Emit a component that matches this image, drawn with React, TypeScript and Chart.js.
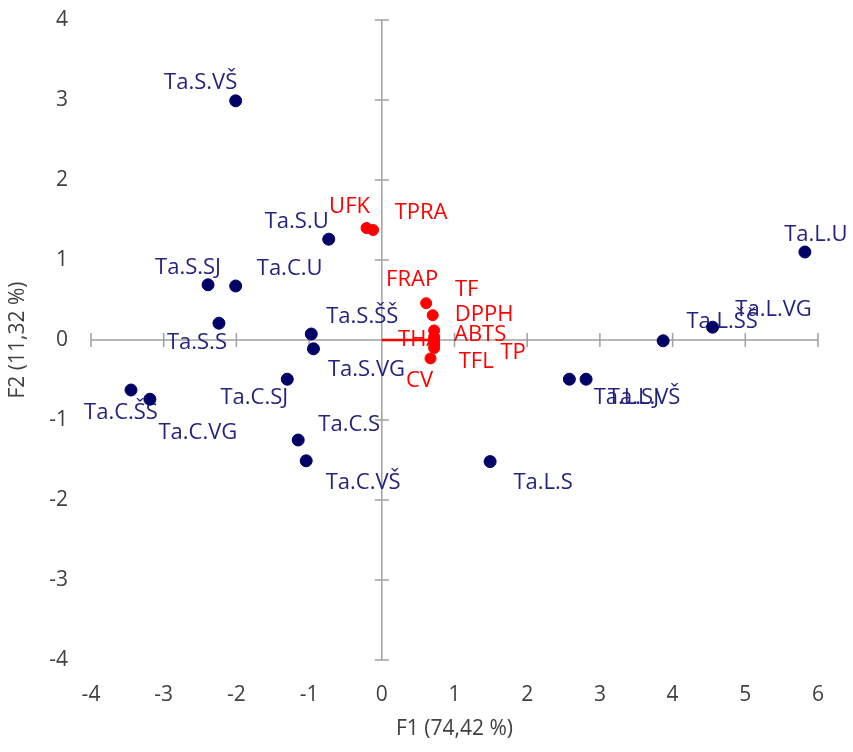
import React, { useEffect, useRef } from "react";
import { Chart, registerables } from "chart.js";

Chart.register(...registerables);

// ---- data ----
const xTickValues = [-4, -3, -2, -1, 0, 1, 2, 3, 4, 5, 6];
const yTickValues = [-4, -3, -2, -1, 0, 1, 2, 3, 4];
const xTitle = "F1 (74,42 %)";
const yTitle = "F2 (11,32 %)";

const sampleNames = [
  "Ta.S.VŠ", "Ta.S.U", "Ta.S.SJ", "Ta.C.U", "Ta.S.S", "Ta.S.ŠŠ", "Ta.S.VG",
  "Ta.C.SJ", "Ta.C.ŠŠ", "Ta.C.VG", "Ta.C.S", "Ta.C.VŠ",
  "Ta.L.S", "Ta.L.SJ", "Ta.L.VŠ", "Ta.L.ŠŠ", "Ta.L.VG", "Ta.L.U",
];
const sampleF1 = [-2.01, -0.73, -2.39, -2.01, -2.24, -0.97, -0.94, -1.3, -3.45, -3.19, -1.15, -1.04, 1.49, 2.58, 2.81, 3.87, 4.55, 5.82];
const sampleF2 = [2.99, 1.26, 0.69, 0.675, 0.21, 0.075, -0.11, -0.49, -0.625, -0.74, -1.25, -1.51, -1.52, -0.49, -0.49, -0.01, 0.16, 1.1];

const variableNames = ["UFK", "TPRA", "FRAP", "TF", "DPPH", "ABTS", "THA", "TP", "TFL", "CV"];
const variableF1 = [-0.21, -0.12, 0.61, 0.7, 0.72, 0.72, 0.72, 0.72, 0.72, 0.67];
const variableF2 = [1.4, 1.375, 0.46, 0.31, 0.12, 0.04, 0.0, -0.04, -0.1, -0.23];

const vectorF1 = [0, 0.76];
const vectorF2 = [0, 0];

// ---- label placement (pixel offsets from the mark, styling only) ----
const sampleLabelOffsets: [number, number][] = [
  [-35, -18], [-32, -17], [-20, -17], [54, -17], [-22, 20], [51, -17], [53, 21],
  [-33, 19], [-10, 23], [48, 34], [51, -15], [57, 22],
  [53, 21], [57, 19], [58, 19], [59, -19], [61, -17], [11, -17],
];
const variableLabelOffsets: [number, number][] = [
  [-17, -21], [48, -17], [-14, -23], [34, -25], [50, -16], [46, -2], [-15, 0], [79, 10], [42, 14], [-11, 22],
];

const FONT = "'Open Sans'";
const TEXT_COLOR = "#404040";
const BLUE_POINT = "#000066";
const BLUE_TEXT = "#24247f";
const RED = "#ff0000";
const AXIS_COLOR = "#a0a0a0";

const crossAxesPlugin = {
  id: "crossAxes",
  beforeDatasetsDraw(chart: any) {
    const { ctx, scales } = chart;
    const xs = scales.x;
    const ys = scales.y;
    const x0 = xs.getPixelForValue(0);
    const y0 = ys.getPixelForValue(0);
    const half = 7;
    ctx.save();
    ctx.strokeStyle = AXIS_COLOR;
    ctx.lineWidth = 1.5;
    ctx.beginPath();
    ctx.moveTo(xs.getPixelForValue(xTickValues[0]), y0);
    ctx.lineTo(xs.getPixelForValue(xTickValues[xTickValues.length - 1]), y0);
    ctx.moveTo(x0, ys.getPixelForValue(yTickValues[0]));
    ctx.lineTo(x0, ys.getPixelForValue(yTickValues[yTickValues.length - 1]));
    xTickValues.forEach((v) => {
      const px = xs.getPixelForValue(v);
      ctx.moveTo(px, y0 - half);
      ctx.lineTo(px, y0 + half);
    });
    yTickValues.forEach((v) => {
      const py = ys.getPixelForValue(v);
      ctx.moveTo(x0 - half, py);
      ctx.lineTo(x0 + half, py);
    });
    ctx.stroke();
    ctx.restore();
  },
};

const pointLabelsPlugin = {
  id: "pointLabels",
  beforeDatasetsDraw(chart: any) {
    const { ctx } = chart;
    ctx.save();
    ctx.font = `22px ${FONT}`;
    ctx.textAlign = "center";
    ctx.textBaseline = "middle";
    chart.data.datasets.forEach((ds: any, di: number) => {
      if (!ds.pointNames) return;
      const meta = chart.getDatasetMeta(di);
      ctx.fillStyle = ds.labelColor;
      meta.data.forEach((el: any, i: number) => {
        const [dx, dy] = ds.labelOffsets[i];
        ctx.fillText(ds.pointNames[i], el.x + dx, el.y + dy);
      });
    });
    ctx.restore();
  },
};

export default function App() {
  const canvasRef = useRef<HTMLCanvasElement | null>(null);

  useEffect(() => {
    document.body.style.margin = "0";
    const canvas = canvasRef.current;
    if (!canvas) return;
    const tickFont = { family: FONT, size: 21 };
    const chart = new Chart(canvas, {
      type: "scatter",
      data: {
        datasets: [
          {
            label: "Variables",
            data: variableF1.map((x, i) => ({ x, y: variableF2[i] })),
            backgroundColor: RED,
            borderColor: RED,
            pointRadius: 5.5,
            pointHoverRadius: 5.5,
            pointNames: variableNames,
            labelOffsets: variableLabelOffsets,
            labelColor: RED,
          } as any,
          {
            label: "Samples",
            data: sampleF1.map((x, i) => ({ x, y: sampleF2[i] })),
            backgroundColor: BLUE_POINT,
            borderColor: BLUE_POINT,
            pointRadius: 6,
            pointHoverRadius: 6,
            pointNames: sampleNames,
            labelOffsets: sampleLabelOffsets,
            labelColor: BLUE_TEXT,
          } as any,
          {
            label: "Vector",
            type: "line",
            data: vectorF1.map((x, i) => ({ x, y: vectorF2[i] })),
            borderColor: RED,
            borderWidth: 2.5,
            pointRadius: 0,
            showLine: true,
          } as any,
        ],
      },
      options: {
        responsive: false,
        animation: false,
        events: [],
        layout: { padding: { top: 20, right: 35, left: 0, bottom: 0 } },
        plugins: {
          legend: { display: false },
          tooltip: { enabled: false },
        },
        scales: {
          x: {
            type: "linear",
            min: -4,
            max: 6,
            afterBuildTicks: (s: any) => {
              s.ticks = xTickValues.map((value) => ({ value }));
            },
            afterFit: (s: any) => {
              s.height = 92;
            },
            ticks: { color: TEXT_COLOR, font: tickFont, padding: 22, maxRotation: 0 },
            grid: { display: false, drawTicks: false },
            border: { display: false },
            title: {
              display: true,
              text: xTitle,
              color: TEXT_COLOR,
              font: tickFont,
              padding: { top: 0, bottom: 10 },
            },
          },
          y: {
            type: "linear",
            min: -4,
            max: 4,
            afterBuildTicks: (s: any) => {
              s.ticks = yTickValues.map((value) => ({ value }));
            },
            afterFit: (s: any) => {
              s.width = 91;
              s.paddingTop = 0;
              s.paddingBottom = 0;
            },
            ticks: { color: TEXT_COLOR, font: tickFont, padding: 23 },
            grid: { display: false, drawTicks: false },
            border: { display: false },
            title: {
              display: true,
              text: yTitle,
              color: TEXT_COLOR,
              font: tickFont,
              padding: { top: 5, bottom: 0 },
            },
          },
        },
      } as any,
      plugins: [crossAxesPlugin, pointLabelsPlugin],
    });
    return () => chart.destroy();
  }, []);

  return (
    <div style={{ width: 853, height: 752 }}>
      <canvas ref={canvasRef} width={853} height={752} style={{ display: "block" }} />
    </div>
  );
}
